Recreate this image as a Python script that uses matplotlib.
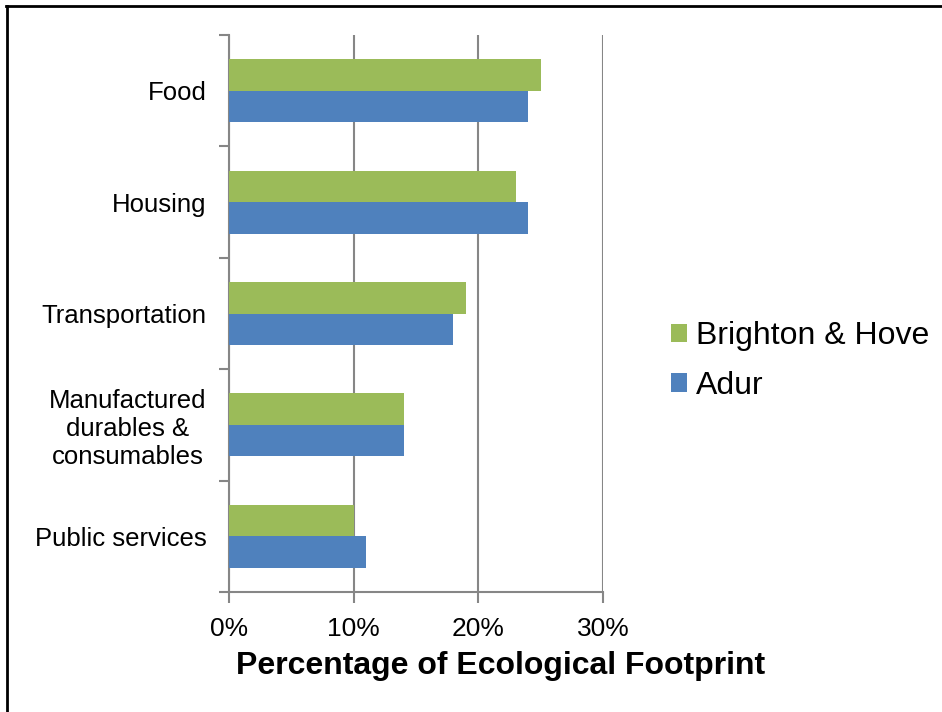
import matplotlib
matplotlib.use("Agg")
import matplotlib.pyplot as plt
from matplotlib.lines import Line2D
from matplotlib.ticker import FixedLocator, PercentFormatter
import numpy as np

plt.rcParams['font.family'] = ['Liberation Sans', 'DejaVu Sans']

categories = ["Food", "Housing", "Transportation",
              "Manufactured\ndurables &\nconsumables", "Public services"]
brighton_hove = [25, 23, 19, 14, 10]
adur = [24, 24, 18, 14, 11]
x_ticks = [0, 10, 20, 30]

GREEN = "#9BBB59"
BLUE = "#4F81BD"
GRID = "#868686"

W, H = 942, 712
fig = plt.figure(figsize=(W / 100, H / 100), dpi=100)
ax = fig.add_axes([229 / W, 120 / H, (603 - 229) / W, (592 - 35) / H])

n = len(categories)
pos = np.arange(n)[::-1].astype(float)
bh = 0.283
ax.barh(pos + bh / 2, brighton_hove, height=bh, color=GREEN, label="Brighton & Hove", zorder=3)
ax.barh(pos - bh / 2, adur, height=bh, color=BLUE, label="Adur", zorder=3)

ax.set_xlim(0, 30)
ax.set_ylim(-0.5, n - 0.5)

ax.set_xticks(x_ticks)
ax.xaxis.set_major_formatter(PercentFormatter(decimals=0))
ax.tick_params(axis='x', length=8, width=1.5, color=GRID, labelsize=19, pad=10)
ax.grid(axis='x', color=GRID, linewidth=1.5, zorder=1)

ax.set_yticks(pos)
ax.set_yticklabels(categories, fontsize=18.5, ha='right', multialignment='center')
ax.tick_params(axis='y', which='major', length=0, pad=16)
ax.yaxis.set_minor_locator(FixedLocator(np.arange(-0.5, n, 1.0)))
ax.tick_params(axis='y', which='minor', length=7, width=1.5, color=GRID)

for s in ['top', 'right']:
    ax.spines[s].set_visible(False)
for s in ['left', 'bottom']:
    ax.spines[s].set_color(GRID)
    ax.spines[s].set_linewidth(1.5)

ax.set_xlabel("Percentage of Ecological Footprint", fontsize=23, fontweight='bold')
ax.xaxis.set_label_coords((501 - 229) / (603 - 229), -(666 - 592) / (592 - 35))
ax.xaxis.label.set_verticalalignment('center')

handles, labels = ax.get_legend_handles_labels()
fig.legend(handles, labels, loc='center left', bbox_to_anchor=(658 / W, 1 - 361 / H),
           frameon=False, fontsize=23, handlelength=0.5, handleheight=0.5,
           handletextpad=0.3, labelspacing=0.62, borderaxespad=0)

# frame around the chart
fig.add_artist(Line2D([6.5 / W, 6.5 / W], [0, 1 - 5.5 / H], transform=fig.transFigure,
                      color='black', linewidth=2))
fig.add_artist(Line2D([5.5 / W, 1], [1 - 5.5 / H, 1 - 5.5 / H], transform=fig.transFigure,
                      color='black', linewidth=2))

fig.savefig("out.png", dpi=100)
